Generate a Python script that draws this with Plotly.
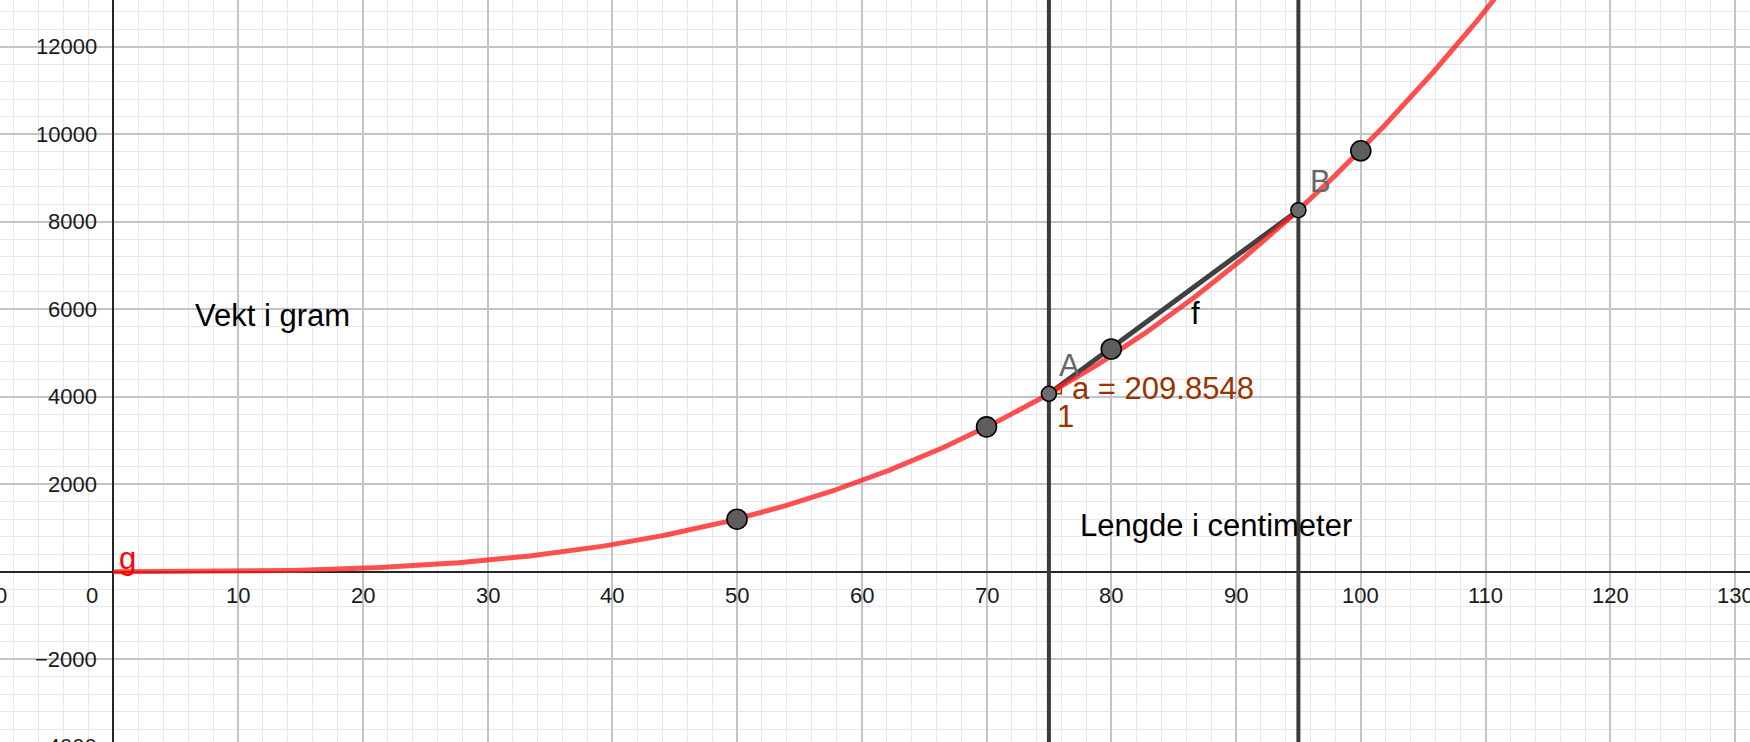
import numpy as np
import plotly.graph_objects as go

# ---------------- data ----------------
data_x = [50, 70, 80, 100]
data_y = [1200, 3310, 5090, 9620]

# function g(x) = coef * x^exp  (GeoGebra curve), slope of secant f
g_coef = 0.0096374
g_exp = 3
g_domain = [0, 115]

secant_x = [75, 95]          # A and B (also the two vertical lines)
point_names = ["A", "B"]
slope_value = 209.8548

x_tick_vals = [-10, 10, 20, 30, 40, 50, 60, 70, 80, 90, 100, 110, 120, 130]
x_tick_text = ["\u221210", "10", "20", "30", "40", "50", "60", "70", "80", "90",
               "100", "110", "120", "130"]
y_tick_vals = [-4000, -2000, 2000, 4000, 6000, 8000, 10000, 12000]
y_tick_text = ["\u22124000", "\u22122000", "2000", "4000", "6000", "8000", "10000", "12000"]

x_range = [-9.08, 131.2]
y_range = [-3893, 13067]

W, H = 1750, 742
FONT = "Liberation Sans, Arial, sans-serif"
px_x = W / (x_range[1] - x_range[0])
px_y = H / (y_range[1] - y_range[0])

def g(x):
    return g_coef * np.power(x, g_exp)

fig = go.Figure()

# vertical lines x = 75 and x = 95
for xv in secant_x:
    fig.add_trace(go.Scatter(x=[xv, xv], y=y_range, mode="lines",
                             line=dict(color="#3a3a3a", width=4), hoverinfo="skip"))

# secant f from A to B
sy = [float(g(v)) for v in secant_x]
fig.add_trace(go.Scatter(x=secant_x, y=sy, mode="lines",
                         line=dict(color="#404040", width=5), hoverinfo="skip"))

# slope triangle
ax, ay = secant_x[0], sy[0]
fig.add_trace(go.Scatter(x=[ax, ax + 1, ax + 1, ax], y=[ay, ay, ay + slope_value, ay],
                         mode="lines", fill="toself", fillcolor="rgba(153,51,0,0.25)",
                         line=dict(color="#993300", width=1.5), hoverinfo="skip"))

# curve g
xs = np.linspace(g_domain[0], g_domain[1], 800)
fig.add_trace(go.Scatter(x=xs, y=g(xs), mode="lines",
                         line=dict(color="rgba(255,30,30,0.78)", width=5), hoverinfo="skip"))

# data points
fig.add_trace(go.Scatter(x=data_x, y=data_y, mode="markers",
                         marker=dict(size=20, color="#5e5e5e", line=dict(color="#000000", width=1.6)),
                         hoverinfo="skip"))

# A and B
fig.add_trace(go.Scatter(x=secant_x, y=sy, mode="markers",
                         marker=dict(size=15, color="#6a6a70", line=dict(color="#000000", width=1.6)),
                         hoverinfo="skip"))

annotations = []
tick_font = dict(family=FONT, size=22, color="#1a1a1a")
# x tick labels (labels beyond the range are anchored at the edge and shifted out)
for v, t in zip(x_tick_vals, x_tick_text):
    xa = min(max(v, x_range[0]), x_range[1])
    annotations.append(dict(x=xa, y=0, xref="x", yref="y", text=t, showarrow=False,
                            xanchor="center", yanchor="middle",
                            xshift=(v - xa) * px_x, yshift=-24, font=tick_font))
# origin label
annotations.append(dict(x=0, y=0, xref="x", yref="y", text="0", showarrow=False,
                        xanchor="center", yanchor="middle", xshift=-21, yshift=-24,
                        font=tick_font))
# y tick labels
for v, t in zip(y_tick_vals, y_tick_text):
    ya = min(max(v, y_range[0]), y_range[1])
    annotations.append(dict(x=0, y=ya, xref="x", yref="y", text=t, showarrow=False,
                            xanchor="right", yanchor="middle", xshift=-14,
                            yshift=(v - ya) * px_y, font=tick_font))

def label(x, y, text, color, size=31):
    annotations.append(dict(x=x, y=y, xref="x", yref="y", text=text, showarrow=False,
                            xanchor="left", yanchor="bottom", yshift=-8,
                            font=dict(family=FONT, size=size, color=color)))

label(6.4, 5600, "Vekt i gram", "#000000")
label(77.3, 793, "Lengde i centimeter", "#000000")
label(86.2, 5640, "f", "#000000")
label(76.7, 3924, "a = 209.8548", "#993300")
label(75.5, 3285, "1", "#993300")
label(75.65, 4450, point_names[0], "#666666")
label(95.76, 8656, point_names[1], "#666666")
label(0.3, 40, "g", "#ff0000")

fig.update_layout(
    width=W, height=H,
    margin=dict(l=0, r=0, t=0, b=0),
    paper_bgcolor="white", plot_bgcolor="white",
    showlegend=False,
    annotations=annotations,
    xaxis=dict(range=x_range, dtick=10, tick0=0, showgrid=True, gridcolor="#c3c3cb", gridwidth=1.6,
               minor=dict(dtick=2, tick0=0, showgrid=True, gridcolor="#e7e7eb", gridwidth=1),
               showticklabels=False, zeroline=True, zerolinecolor="#262626", zerolinewidth=2,
               showline=False, fixedrange=True),
    yaxis=dict(range=y_range, dtick=2000, tick0=0, showgrid=True, gridcolor="#c3c3cb", gridwidth=1.6,
               minor=dict(dtick=400, tick0=0, showgrid=True, gridcolor="#e7e7eb", gridwidth=1),
               showticklabels=False, zeroline=True, zerolinecolor="#262626", zerolinewidth=2,
               showline=False, fixedrange=True),
)

fig.write_html("out.html", config={"displayModeBar": False},
               post_script="document.body.style.margin='0';document.body.style.overflow='hidden';")
